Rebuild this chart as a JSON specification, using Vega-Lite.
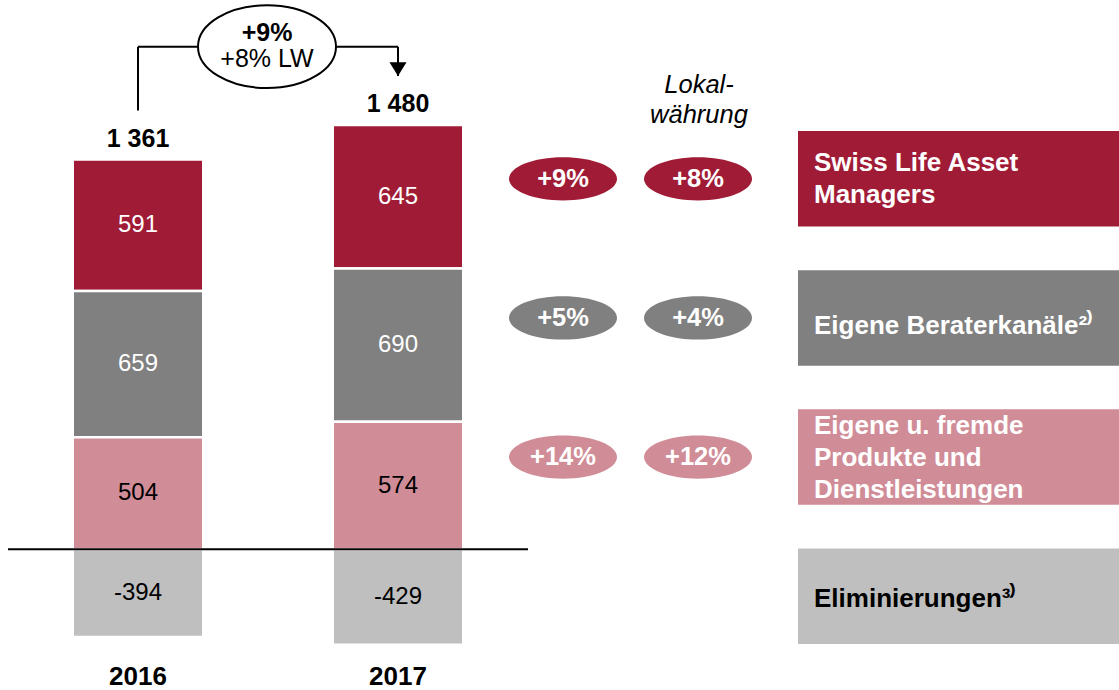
{
  "$schema": "https://vega.github.io/schema/vega-lite/v6.json",
  "width": 1119,
  "height": 690,
  "autosize": "none",
  "padding": 0,
  "background": "white",
  "config": {
    "font": "Liberation Sans",
    "view": {"stroke": null},
    "locale": {"number": {"decimal": ",", "thousands": " ", "grouping": [3], "currency": ["", ""], "minus": "-"}}
  },
  "datasets": {
    "bars": [
      {"year": "2016", "category": "Swiss Life Asset Managers", "value": 591},
      {"year": "2016", "category": "Eigene Beraterkanäle", "value": 659},
      {"year": "2016", "category": "Eigene u. fremde Produkte und Dienstleistungen", "value": 504},
      {"year": "2016", "category": "Eliminierungen", "value": -394},
      {"year": "2017", "category": "Swiss Life Asset Managers", "value": 645},
      {"year": "2017", "category": "Eigene Beraterkanäle", "value": 690},
      {"year": "2017", "category": "Eigene u. fremde Produkte und Dienstleistungen", "value": 574},
      {"year": "2017", "category": "Eliminierungen", "value": -429}
    ],
    "totals": [
      {"year": "2016", "total": 1361},
      {"year": "2017", "total": 1480}
    ],
    "growth": [
      {"category": "Swiss Life Asset Managers", "basis": "CHF", "growth": 0.09},
      {"category": "Swiss Life Asset Managers", "basis": "Lokalwährung", "growth": 0.08},
      {"category": "Eigene Beraterkanäle", "basis": "CHF", "growth": 0.05},
      {"category": "Eigene Beraterkanäle", "basis": "Lokalwährung", "growth": 0.04},
      {"category": "Eigene u. fremde Produkte und Dienstleistungen", "basis": "CHF", "growth": 0.14},
      {"category": "Eigene u. fremde Produkte und Dienstleistungen", "basis": "Lokalwährung", "growth": 0.12}
    ],
    "segments": [
      {"category": "Swiss Life Asset Managers", "label": "Swiss Life Asset\nManagers"},
      {"category": "Eigene Beraterkanäle", "label": "Eigene Beraterkanäle²⁾"},
      {"category": "Eigene u. fremde Produkte und Dienstleistungen", "label": "Eigene u. fremde\nProdukte und\nDienstleistungen"},
      {"category": "Eliminierungen", "label": "Eliminierungen³⁾"}
    ],
    "overall": [
      {"basis": "CHF", "label": "+9%"},
      {"basis": "Lokalwährung", "label": "+8% LW"}
    ]
  },
  "layer": [
    {
      "data": {"name": "bars"},
      "transform": [
        {"calculate": "indexof(['Eigene u. fremde Produkte und Dienstleistungen', 'Eigene Beraterkanäle', 'Swiss Life Asset Managers', 'Eliminierungen'], datum.category)", "as": "stackOrder"}
      ],
      "encoding": {
        "x": {
          "field": "year", "type": "nominal",
          "scale": {"type": "band", "domain": ["2016", "2017"], "range": [8, 528], "paddingInner": 0.498, "paddingOuter": 0.249},
          "axis": null
        }
      },
      "layer": [
        {
          "mark": {"type": "bar", "stroke": "white", "strokeWidth": 2.5},
          "encoding": {
            "y": {"field": "value", "type": "quantitative", "stack": "zero", "scale": {"domain": [-633, 2472], "nice": false, "zero": false}, "axis": null},
            "order": {"field": "stackOrder", "type": "quantitative", "sort": "ascending"},
            "color": {
              "field": "category", "type": "nominal",
              "scale": {"domain": ["Swiss Life Asset Managers", "Eigene Beraterkanäle", "Eigene u. fremde Produkte und Dienstleistungen", "Eliminierungen"], "range": ["#A01C36", "#808080", "#D08D98", "#BFBFBF"]},
              "legend": null
            }
          }
        },
        {
          "mark": {"type": "text", "fontSize": 24, "baseline": "middle"},
          "encoding": {
            "y": {"field": "value", "type": "quantitative", "stack": "zero", "bandPosition": 0.5, "scale": {"domain": [-633, 2472], "nice": false, "zero": false}, "axis": null},
            "order": {"field": "stackOrder", "type": "quantitative", "sort": "ascending"},
            "detail": {"field": "category", "type": "nominal"},
            "color": {"condition": {"test": "datum.category === 'Swiss Life Asset Managers' || datum.category === 'Eigene Beraterkanäle'", "value": "white"}, "value": "black"},
            "text": {"field": "value", "type": "quantitative", "format": "d"}
          }
        },
        {
          "transform": [
            {"filter": "datum.value > 0"},
            {"aggregate": [{"op": "sum", "field": "value", "as": "top"}], "groupby": ["year"]},
            {"lookup": "year", "from": {"data": {"name": "totals"}, "key": "year", "fields": ["total"]}}
          ],
          "layer": [
            {
              "mark": {"type": "text", "fontSize": 25, "fontWeight": "bold", "baseline": "middle", "dy": -21, "color": "black"},
              "encoding": {
                "y": {"field": "top", "type": "quantitative", "scale": {"domain": [-633, 2472], "nice": false, "zero": false}, "axis": null},
                "text": {"field": "total", "type": "quantitative", "format": ",d"}
              }
            },
            {
              "mark": {"type": "text", "fontSize": 26, "fontWeight": "bold", "baseline": "middle", "dy": 128, "color": "black"},
              "encoding": {
                "y": {"datum": 0, "type": "quantitative", "scale": {"domain": [-633, 2472], "nice": false, "zero": false}, "axis": null},
                "text": {"field": "year", "type": "nominal"}
              }
            },
            {
              "mark": {"type": "rule", "strokeWidth": 2, "color": "black", "yOffset": -49},
              "encoding": {
                "y": {"field": "top", "type": "quantitative", "scale": {"domain": [-633, 2472], "nice": false, "zero": false}, "axis": null},
                "y2": {"datum": 2262}
              }
            },
            {
              "mark": {"type": "line", "strokeWidth": 2, "color": "black"},
              "encoding": {
                "y": {"datum": 2262, "type": "quantitative", "scale": {"domain": [-633, 2472], "nice": false, "zero": false}, "axis": null}
              }
            },
            {
              "transform": [{"filter": "datum.year === '2017'"}],
              "mark": {"type": "point", "shape": "M -1 -0.8 L 1 -0.8 L 0 0.8 Z", "size": 289, "filled": true, "color": "black", "opacity": 1, "yOffset": -56},
              "encoding": {
                "y": {"field": "top", "type": "quantitative", "scale": {"domain": [-633, 2472], "nice": false, "zero": false}, "axis": null}
              }
            }
          ]
        },
        {
          "data": {"name": "overall"},
          "layer": [
            {
              "transform": [{"filter": "datum.basis === 'CHF'"}],
              "mark": {"type": "rule", "strokeWidth": 2, "color": "black", "xOffset": -130, "x2Offset": 130},
              "encoding": {
                "x": {"datum": "2016", "type": "nominal", "axis": null},
                "x2": {"datum": "2017"},
                "y": {"datum": 0, "type": "quantitative", "scale": {"domain": [-633, 2472], "nice": false, "zero": false}, "axis": null}
              }
            },
            {
              "transform": [{"filter": "datum.basis === 'CHF'"}],
              "mark": {"type": "point", "shape": "M -1 0 A 1 0.6 0 1 1 1 0 A 1 0.6 0 1 1 -1 0 Z", "size": 19044, "filled": true, "fill": "white", "stroke": "black", "strokeWidth": 2, "opacity": 1, "xOffset": 129},
              "encoding": {
                "x": {"datum": "2016", "type": "nominal", "axis": null},
                "y": {"datum": 2262, "type": "quantitative", "scale": {"domain": [-633, 2472], "nice": false, "zero": false}, "axis": null}
              }
            },
            {
              "transform": [{"filter": "datum.basis === 'CHF'"}],
              "mark": {"type": "text", "fontSize": 25, "fontWeight": "bold", "baseline": "middle", "color": "black", "xOffset": 129, "dy": -14},
              "encoding": {
                "x": {"datum": "2016", "type": "nominal", "axis": null},
                "y": {"datum": 2262, "type": "quantitative", "scale": {"domain": [-633, 2472], "nice": false, "zero": false}, "axis": null},
                "text": {"field": "label", "type": "nominal"}
              }
            },
            {
              "transform": [{"filter": "datum.basis === 'Lokalwährung'"}],
              "mark": {"type": "text", "fontSize": 25, "baseline": "middle", "color": "black", "xOffset": 129, "dy": 12},
              "encoding": {
                "x": {"datum": "2016", "type": "nominal", "axis": null},
                "y": {"datum": 2262, "type": "quantitative", "scale": {"domain": [-633, 2472], "nice": false, "zero": false}, "axis": null},
                "text": {"field": "label", "type": "nominal"}
              }
            }
          ]
        }
      ]
    },
    {
      "encoding": {
        "y": {
          "field": "category", "type": "nominal",
          "scale": {"type": "band", "domain": ["Swiss Life Asset Managers", "Eigene Beraterkanäle", "Eigene u. fremde Produkte und Dienstleistungen", "Eliminierungen"], "range": [131, 644], "paddingInner": 0.313, "paddingOuter": 0},
          "axis": null
        }
      },
      "layer": [
        {
          "data": {"name": "growth"},
          "encoding": {
            "x": {"field": "basis", "type": "nominal", "scale": {"type": "point", "domain": ["CHF", "Lokalwährung"], "range": [563, 698], "padding": 0}, "axis": null}
          },
          "layer": [
            {
              "mark": {"type": "point", "shape": "M -1 0 A 1 0.4 0 1 1 1 0 A 1 0.4 0 1 1 -1 0 Z", "size": 11664, "filled": true, "opacity": 1},
              "encoding": {
                "color": {
                  "field": "category", "type": "nominal",
                  "scale": {"domain": ["Swiss Life Asset Managers", "Eigene Beraterkanäle", "Eigene u. fremde Produkte und Dienstleistungen", "Eliminierungen"], "range": ["#A01C36", "#808080", "#D08D98", "#BFBFBF"]},
                  "legend": null
                }
              }
            },
            {
              "mark": {"type": "text", "fontSize": 25.5, "fontWeight": "bold", "color": "white", "baseline": "middle"},
              "encoding": {"text": {"field": "growth", "type": "quantitative", "format": "+.0%"}}
            },
            {
              "transform": [{"filter": "datum.basis === 'Lokalwährung' && datum.category === 'Swiss Life Asset Managers'"}],
              "mark": {"type": "text", "text": ["Lokal-", "währung"], "fontSize": 25.5, "fontStyle": "italic", "baseline": "alphabetic", "lineHeight": 30, "dy": -86, "dx": 1, "color": "black"}
            }
          ]
        },
        {
          "data": {"name": "segments"},
          "encoding": {
            "x": {"datum": 0, "type": "quantitative", "scale": {"domain": [0, 1], "range": [798, 1119], "nice": false, "zero": false}, "axis": null}
          },
          "layer": [
            {
              "mark": {"type": "bar"},
              "encoding": {
                "x2": {"datum": 1},
                "color": {
                  "field": "category", "type": "nominal",
                  "scale": {"domain": ["Swiss Life Asset Managers", "Eigene Beraterkanäle", "Eigene u. fremde Produkte und Dienstleistungen", "Eliminierungen"], "range": ["#A01C36", "#808080", "#D08D98", "#BFBFBF"]},
                  "legend": null
                }
              }
            },
            {
              "transform": [{"filter": "datum.category === 'Swiss Life Asset Managers'"}],
              "mark": {"type": "text", "align": "left", "dx": 16, "dy": -16, "fontSize": 26, "fontWeight": "bold", "lineBreak": "\n", "lineHeight": 32, "baseline": "middle", "color": "white"},
              "encoding": {"text": {"field": "label", "type": "nominal"}}
            },
            {
              "transform": [{"filter": "datum.category === 'Eigene Beraterkanäle'"}],
              "mark": {"type": "text", "align": "left", "dx": 16, "dy": 8, "fontSize": 26, "fontWeight": "bold", "baseline": "middle", "color": "white"},
              "encoding": {"text": {"field": "label", "type": "nominal"}}
            },
            {
              "transform": [{"filter": "datum.category === 'Eigene u. fremde Produkte und Dienstleistungen'"}],
              "mark": {"type": "text", "align": "left", "dx": 16, "dy": -31, "fontSize": 26, "fontWeight": "bold", "lineBreak": "\n", "lineHeight": 32, "baseline": "middle", "color": "white"},
              "encoding": {"text": {"field": "label", "type": "nominal"}}
            },
            {
              "transform": [{"filter": "datum.category === 'Eliminierungen'"}],
              "mark": {"type": "text", "align": "left", "dx": 16, "dy": 3, "fontSize": 26, "fontWeight": "bold", "baseline": "middle", "color": "black"},
              "encoding": {"text": {"field": "label", "type": "nominal"}}
            }
          ]
        }
      ],
      "resolve": {"scale": {"x": "independent"}}
    }
  ],
  "resolve": {"scale": {"x": "independent", "y": "independent", "color": "independent"}}
}
